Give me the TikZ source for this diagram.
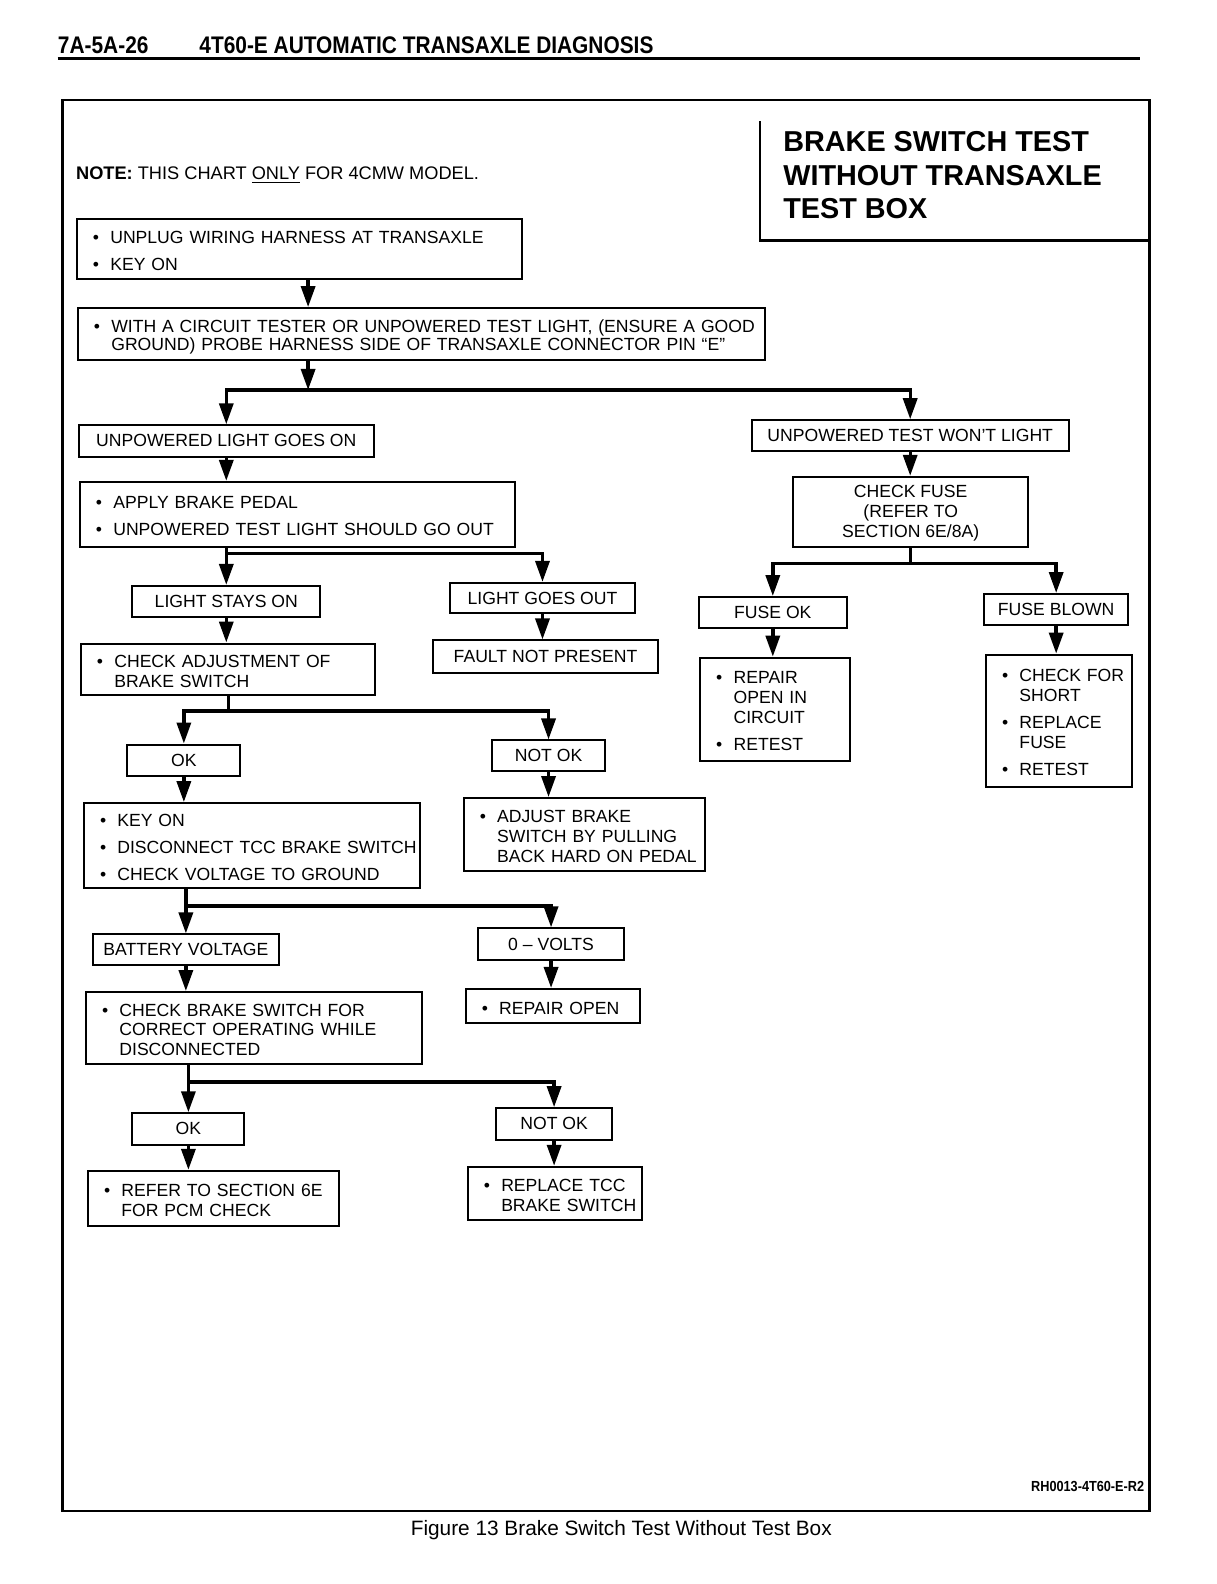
\documentclass[tikz,border=0pt]{standalone}
\usepackage{fontspec}
\setmainfont{Liberation Sans}
\newfontfamily\hdfont{Liberation Sans}[FakeStretch=0.87]
\usetikzlibrary{arrows.meta}
\newcommand\bxfont{\fontsize{8.8}{9.9}\selectfont}
\newcommand\nx{\\[3.8pt]}
\newcommand\BX[6]{%
  \pgfmathsetlengthmacro\bw{(#4-#2)*0.505pt}%
  \pgfmathsetlengthmacro\bh{(#5-#3)*0.505pt}%
  \node[box,minimum width=\bw,minimum height=\bh,align=center] (#1) at ({(#2+#4)/2},{(#3+#5)/2})
   {\raisebox{-1pt}[\height][\depth]{\begin{tabular}{@{}c@{}}#6\end{tabular}}};}
\newcommand\LB[6]{%
  \pgfmathsetlengthmacro\bw{(#4-#2-32)*0.505pt}%
  \pgfmathsetlengthmacro\bh{(#5-#3)*0.505pt}%
  \node[box,text width=\bw,inner xsep=8.08pt,minimum height=\bh,align=left] (#1) at ({(#2+#4)/2},{(#3+#5)/2})
   {\raisebox{-2pt}[\height][\depth]{\begin{tabular}{@{}l@{\hspace{5.6pt}}l@{}}#6\end{tabular}}};}
\begin{document}
\begin{tikzpicture}[x=0.505pt,y=-0.505pt,
  box/.style={draw,line width=1pt,inner sep=0pt,font=\bxfont},
  ln/.style={line width=1.7pt},
  arr/.style={line width=1.7pt,-{Triangle[width=7pt,length=10.5pt]}}]
\fill[white] (0,0) rectangle (1204,1568);
\useasboundingbox (0,0) rectangle (1204,1568);

% header
\node[anchor=base west,inner sep=0pt,font=\hdfont\bfseries\fontsize{12}{14}\selectfont] (pg) at (57,53) {7A-5A-26};
\node[anchor=base west,inner sep=0pt,font=\hdfont\bfseries\fontsize{12}{14}\selectfont] (hd) at (197,53) {4T60-E AUTOMATIC TRANSAXLE DIAGNOSIS};
\draw[line width=1.5pt] (57,58) -- (1128,58);

% frame
\draw[line width=1.2pt] (62,99) rectangle (1138,1496);

% title box
\draw[line width=1.1pt] (752,120) -- (752,238) -- (1138,238);
\node[anchor=north west,inner sep=0pt,align=left,font=\bfseries\fontsize{14.4}{16.7}\selectfont] (title) at (775,130)
  {BRAKE SWITCH TEST\\WITHOUT TRANSAXLE\\TEST BOX};

% note
\node[anchor=base west,inner sep=0pt,font=\fontsize{9.1}{10}\selectfont] (note) at (75,178)
  {\textbf{NOTE:} THIS CHART \underline{ONLY} FOR 4CMW MODEL.};

% boxes
\LB{b1}{76}{217}{517}{276}{\textbullet & UNPLUG WIRING HARNESS AT TRANSAXLE\nx \textbullet & KEY ON}
\LB{b2}{77}{305}{757}{356}{\textbullet & WITH A CIRCUIT TESTER OR UNPOWERED TEST LIGHT, (ENSURE A GOOD\\[-1pt] & GROUND) PROBE HARNESS SIDE OF TRANSAXLE CONNECTOR PIN “E”}
\BX{b3}{78}{421}{370}{452}{UNPOWERED LIGHT GOES ON}
\BX{b4}{744}{416}{1058}{446}{UNPOWERED TEST WON’T LIGHT}
\LB{b5}{79}{477}{510}{541}{\textbullet & APPLY BRAKE PEDAL\nx \textbullet & UNPOWERED TEST LIGHT SHOULD GO OUT}
\BX{b6}{131}{580}{317}{611}{LIGHT STAYS ON}
\BX{b7}{445}{577}{629}{607}{LIGHT GOES OUT}
\LB{b8}{80}{637}{371}{688}{\textbullet & CHECK ADJUSTMENT OF\\ & BRAKE SWITCH}
\BX{b9}{429}{634}{651}{666}{FAULT NOT PRESENT}
\BX{b10}{126}{737}{238}{768}{OK}
\BX{b11}{487}{733}{599}{763}{NOT OK}
\LB{b12}{83}{795}{416}{879}{\textbullet & KEY ON\nx \textbullet & DISCONNECT TCC BRAKE SWITCH\nx \textbullet & CHECK VOLTAGE TO GROUND}
\LB{b13}{459}{790}{698}{862}{\textbullet & ADJUST BRAKE\\ & SWITCH BY PULLING\\ & BACK HARD ON PEDAL}
\BX{b14}{92}{925}{276}{955}{BATTERY VOLTAGE}
\BX{b15}{473}{919}{618}{950}{0 – VOLTS}
\LB{b16}{85}{982}{418}{1053}{\textbullet & CHECK BRAKE SWITCH FOR\\ & CORRECT OPERATING WHILE\\ & DISCONNECTED}
\LB{b17}{461}{979}{634}{1013}{\textbullet & REPAIR OPEN}
\BX{b18}{131}{1102}{242}{1133}{OK}
\BX{b19}{491}{1097}{606}{1128}{NOT OK}
\LB{b20}{87}{1159}{336}{1214}{\textbullet & REFER TO SECTION 6E\\ & FOR PCM CHECK}
\LB{b21}{463}{1155}{636}{1208}{\textbullet & REPLACE TCC\\ & BRAKE SWITCH}
\BX{b22}{785}{472}{1018}{541}{CHECK FUSE\\(REFER TO\\SECTION 6E/8A)}
\BX{b23}{692}{591}{838}{622}{FUSE OK}
\BX{b24}{974}{588}{1117}{619}{FUSE BLOWN}
\LB{b25}{693}{651}{841}{753}{\textbullet & REPAIR\\ & OPEN IN\\ & CIRCUIT\nx \textbullet & RETEST}
\LB{b26}{976}{648}{1121}{779}{\textbullet & CHECK FOR\\ & SHORT\nx \textbullet & REPLACE\\ & FUSE\nx \textbullet & RETEST}

% junctions
\coordinate (j1) at (305,386);
\coordinate (j2) at (224,548);
\coordinate (j3) at (226,704);
\coordinate (j4) at (184,897);
\coordinate (j5) at (186.5,1071);
\coordinate (j6) at (901.5,558);

% connectors
\draw[arr] (b1.south -| j1) -- (b2.north -| j1);
\draw[arr] (b2.south -| j1) -- (j1);
\draw[arr] (j1) -| (b3.north);
\draw[arr] (j1) -| (b4.north);
\draw[arr] (b3.south) -- (b3.south |- b5.north);
\draw[arr] (b5.south -| b6.north) -- (b6.north);
\draw[arr] (j2) -| (b7.north);
\draw[arr] (b6.south) -- (b6.south |- b8.north);
\draw[arr] (b7.south) -- (b7.south |- b9.north);
\draw[ln] (b8.south -| j3) -- (j3);
\draw[arr] (j3) -| (b10.north);
\draw[arr] (j3) -| (b11.north);
\draw[arr] (b10.south) -- (b10.south |- b12.north);
\draw[arr] (b11.south) -- (b11.south |- b13.north);
\draw[arr] (b12.south -| b14.north) -- (b14.north);
\draw[arr] (j4) -| (b15.north);
\draw[arr] (b14.south) -- (b14.south |- b16.north);
\draw[arr] (b15.south) -- (b15.south |- b17.north);
\draw[arr] (b16.south -| b18.north) -- (b18.north);
\draw[arr] (j5) -| (b19.north);
\draw[arr] (b18.south) -- (b18.south |- b20.north);
\draw[arr] (b19.south) -- (b19.south |- b21.north);
\draw[arr] (b4.south) -- (b4.south |- b22.north);
\draw[ln] (b22.south) -- (j6);
\draw[arr] (j6) -| (b23.north);
\draw[arr] (j6) -| (b24.north);
\draw[arr] (b23.south) -- (b23.south |- b25.north);
\draw[arr] (b24.south) -- (b24.south |- b26.north);

% footer
\node[anchor=base east,inner sep=0pt,font=\hdfont\bfseries\fontsize{7.3}{8}\selectfont] (code) at (1133,1476) {RH0013-4T60-E-R2};
\node[anchor=base,inner sep=0pt,font=\fontsize{10.4}{12}\selectfont] (cap) at (615,1520) {Figure 13 Brake Switch Test Without Test Box};
\end{tikzpicture}
\end{document}
